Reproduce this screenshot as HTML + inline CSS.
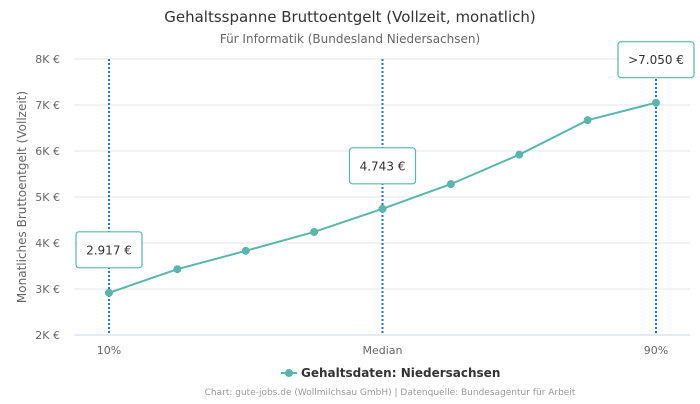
<!DOCTYPE html>
<html><head><meta charset="utf-8">
<style>
body{margin:0;background:#fff;font-family:"DejaVu Sans","Liberation Sans",sans-serif;}
svg text{font-family:"DejaVu Sans","Liberation Sans",sans-serif;}
</style></head>
<body>
<svg id="chart" width="700" height="400" xmlns="http://www.w3.org/2000/svg">
<text x="350" y="22" text-anchor="middle" font-size="15" fill="#333">Gehaltsspanne Bruttoentgelt (Vollzeit, monatlich)</text>
<text x="350" y="43" text-anchor="middle" font-size="12" fill="#666">Für Informatik (Bundesland Niedersachsen)</text>
<text transform="translate(26,197) rotate(-90)" text-anchor="middle" font-size="12" fill="#666">Monatliches Bruttoentgelt (Vollzeit)</text>
<g id="grid"></g><g id="marks"></g>
<g>
<line x1="281" y1="373" x2="297" y2="373" stroke="#5bb5ac" stroke-width="2"/>
<circle cx="289" cy="373" r="4" fill="#5bb5ac"/>
<text x="301" y="377" font-size="12" font-weight="bold" fill="#333">Gehaltsdaten: Niedersachsen</text>
</g>
<text x="390" y="395" text-anchor="middle" font-size="9" fill="#999">Chart: gute-jobs.de (Wollmilchsau GmbH) | Datenquelle: Bundesagentur für Arbeit</text>
</svg>
<script>
const values=[2917,3430,3830,4240,4743,5280,5920,6670,7050];
const yTicks=[2000,3000,4000,5000,6000,7000,8000];
const yTickLabels=["2K €","3K €","4K €","5K €","6K €","7K €","8K €"];
const xLabels={0:"10%",4:"Median",8:"90%"};
const callouts=[{i:0,t:"2.917 €"},{i:4,t:"4.743 €"},{i:8,t:">7.050 €"}];
const NS="http://www.w3.org/2000/svg";
const x0=109,x1=656,yMin=2000,yMax=8000,py0=335,py1=59;
const X=i=>x0+(x1-x0)*i/(values.length-1);
const Y=v=>py0-(v-yMin)/(yMax-yMin)*(py0-py1);
function mk(tag,attrs,parent){const e=document.createElementNS(NS,tag);for(const k in attrs)e.setAttribute(k,attrs[k]);parent.appendChild(e);return e;}
const grid=document.getElementById('grid'),marks=document.getElementById('marks');
yTicks.forEach((v,k)=>{
  const l=mk('line',{x1:74,x2:690,y1:Y(v),y2:Y(v),stroke:k==0?'#ccd6eb':'#e6e6e6','stroke-width':1},grid);
  
  
  const t=mk('text',{x:60,y:Y(v)+4,'text-anchor':'end','font-size':11,fill:'#666'},grid);
  t.textContent=yTickLabels[k];
  
  
});
for(const i in xLabels){
  const t=mk('text',{x:X(+i),y:354,'text-anchor':'middle','font-size':11,fill:'#666'},grid);
  t.textContent=xLabels[i];
  
  
}
callouts.forEach(c=>{
  const l=mk('line',{x1:X(c.i),x2:X(c.i),y1:py1,y2:py0,stroke:'#2f72b0','stroke-width':2,'stroke-dasharray':'2,2'},marks);
  
  
});
const pts=values.map((v,i)=>X(i)+','+Y(v)).join(' ');
const pl=mk('polyline',{points:pts,fill:'none',stroke:'#5bb5ac','stroke-width':2},marks);


values.forEach((v,i)=>{
  const c=mk('circle',{cx:X(i),cy:Y(v),r:4,fill:'#5bb5ac'},marks);
  
  
});
callouts.forEach(c=>{
  const w=c.t.length>7?76:66, h=36;
  const cx=X(c.i), cy=Y(values[c.i])-43;
  const g=mk('g',{},marks);
  
  
  mk('rect',{x:cx-w/2,y:cy-h/2,width:w,height:h,rx:3,fill:'#fff',stroke:'#5bb5ac','stroke-width':1.2},g);
  const t=mk('text',{x:cx,y:cy+4.5,'text-anchor':'middle','font-size':12,fill:'#333'},g);
  t.textContent=c.t;
});
</script>
</body></html>
